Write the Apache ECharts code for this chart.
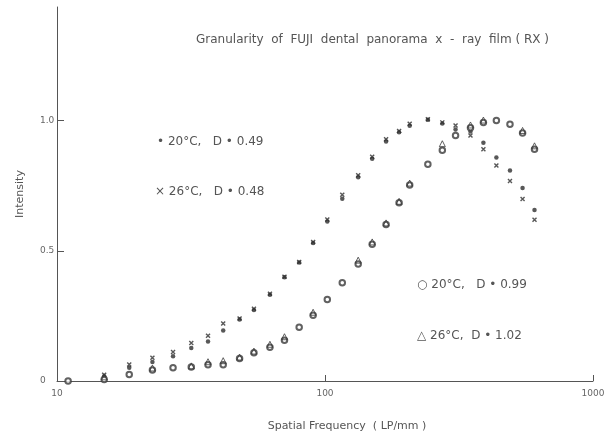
<!DOCTYPE html>
<html>
<head>
<meta charset="utf-8">
<script src="https://cdn.jsdelivr.net/npm/echarts@6/dist/echarts.min.js"></script>
<style>
  html, body { margin: 0; padding: 0; background: #fff; }
  #chart { width: 614px; height: 437px; }
</style>
</head>
<body>
<div id="chart"></div>
<script>
// Spatial frequency of each measurement (LP/mm)
const freq = [11.0, 15.0, 18.6, 22.7, 27.1, 31.7, 36.6, 41.7, 48.0, 54.3,
              62.3, 70.6, 80.1, 90.3, 102, 116, 133, 150, 169, 189,
              207, 242, 274, 307, 349, 390, 436, 490, 546, 605];

// Normalised noise intensity, one value per frequency (null = no mark)
const dot20_049 = [null, 0.018, 0.051, 0.073, 0.095, 0.127, 0.152, 0.194, 0.236, 0.273,
                   0.331, 0.398, 0.455, 0.530, 0.612, 0.700, 0.782, 0.853, 0.920, 0.955,
                   0.980, 1.003, 0.989, 0.966, 0.958, 0.915, 0.858, 0.808, 0.741, 0.657];
const x26_048   = [null, 0.024, 0.063, 0.089, 0.111, 0.146, 0.174, 0.221, 0.240, 0.277,
                   0.335, 0.400, 0.457, 0.534, 0.620, 0.715, 0.790, 0.861, 0.928, 0.960,
                   0.988, 1.005, 0.993, 0.981, 0.943, 0.890, 0.827, 0.768, 0.699, 0.619];
const o20_099   = [0.000, 0.006, 0.025, 0.042, 0.051, 0.054, 0.062, 0.062, 0.086, 0.108,
                   0.130, 0.156, 0.206, 0.252, 0.313, 0.377, 0.449, 0.525, 0.601, 0.684,
                   0.753, 0.832, 0.886, 0.943, 0.972, 0.993, 1.000, 0.986, 0.952, 0.890];
const tri26_102 = [null, 0.016, null, 0.050, null, 0.058, 0.074, 0.078, 0.092, 0.115,
                   0.141, 0.170, null, 0.264, null, null, 0.464, 0.534, 0.607, 0.690,
                   0.760, null, 0.911, null, 0.983, 1.002, null, null, 0.962, 0.903];

const xTicks = [10, 100, 1000];
const yTicks = [0, 0.5, 1.0];
const yTickText = ['0', '0.5', '1.0'];

const titleText = 'Granularity  of  FUJI  dental  panorama  x  -  ray  film ( RX )';
const notes = [
  { text: '\u2022 20\u00b0C,   D \u2022 0.49', x: 157, y: 143 },
  { text: '\u00d7 26\u00b0C,   D \u2022 0.48', x: 155, y: 193 },
  { text: '\u25cb 20\u00b0C,   D \u2022 0.99', x: 417, y: 286 },
  { text: '\u25b3 26\u00b0C,  D \u2022 1.02', x: 417, y: 337 }
];

const pairs = vals => freq.map((f, i) => [f, vals[i]]).filter(p => p[1] !== null);

const ink = '#2e2e2e';
const textInk = '#555';
const font = 'DejaVu Sans';

const chart = echarts.init(document.getElementById('chart'), null, { renderer: 'canvas' });
chart.setOption({
  animation: false,
  backgroundColor: '#fff',
  textStyle: { fontFamily: font },
  title: {
    text: titleText,
    left: 191, top: 29,
    textStyle: { fontFamily: font, fontSize: 12, fontWeight: 'normal', color: textInk }
  },
  grid: { left: 57, right: 21, top: 7, bottom: 52 },
  xAxis: {
    type: 'log', logBase: 10, min: 10, max: 1000,
    name: 'Spatial Frequency  ( LP/mm )',
    nameLocation: 'middle', nameGap: 40,
    nameTextStyle: { fontFamily: font, fontSize: 11, color: textInk, padding: [0, 0, 0, 44] },
    axisLine: { show: true, lineStyle: { color: '#555', width: 1 } },
    axisTick: { show: true, inside: true, length: 6, lineStyle: { color: '#555' },
                customValues: xTicks },
    minorTick: { show: false },
    axisLabel: { fontFamily: font, fontSize: 9, color: '#666', margin: 8,
                 customValues: xTicks, formatter: v => String(Math.round(v)) },
    splitLine: { show: false }
  },
  yAxis: {
    type: 'value', min: 0, max: 1.436,
    name: 'Intensity',
    nameLocation: 'middle', nameGap: 31, nameRotate: 90,
    nameTextStyle: { fontFamily: font, fontSize: 11, color: textInk },
    axisLine: { show: true, lineStyle: { color: '#555', width: 1 } },
    axisTick: { show: true, inside: true, length: 7, lineStyle: { color: '#555' },
                customValues: yTicks },
    axisLabel: { fontFamily: font, fontSize: 9, color: '#666', margin: 17, align: 'left',
                 customValues: yTicks,
                 formatter: v => yTickText[yTicks.indexOf(Math.round(v * 10) / 10)] },
    splitLine: { show: false }
  },
  series: [
    {
      name: '20\u00b0C, D 0.49', type: 'scatter', data: pairs(dot20_049),
      symbol: 'circle', symbolSize: 4.5,
      itemStyle: { color: ink }
    },
    {
      name: '26\u00b0C, D 0.48', type: 'scatter', data: pairs(x26_048),
      symbol: 'path://M0,0L10,10M10,0L0,10', symbolSize: 4,
      itemStyle: { color: ink, borderColor: ink, borderWidth: 1.4 }
    },
    {
      name: '20\u00b0C, D 0.99', type: 'scatter', data: pairs(o20_099),
      symbol: 'emptyCircle', symbolSize: 5.5,
      itemStyle: { color: '#3a3a3a', borderColor: '#3a3a3a', borderWidth: 1.1 }
    },
    {
      name: '26\u00b0C, D 1.02', type: 'scatter', data: pairs(tri26_102),
      symbol: 'triangle', symbolSize: 6,
      itemStyle: { color: 'rgba(0,0,0,0)', borderColor: '#3a3a3a', borderWidth: 1 }
    }
  ],
  graphic: notes.map(n => ({
    type: 'text', left: n.x, top: n.y - 7,
    style: { text: n.text, fill: textInk, font: '12px "' + font + '"' }
  }))
});
</script>
</body>
</html>
